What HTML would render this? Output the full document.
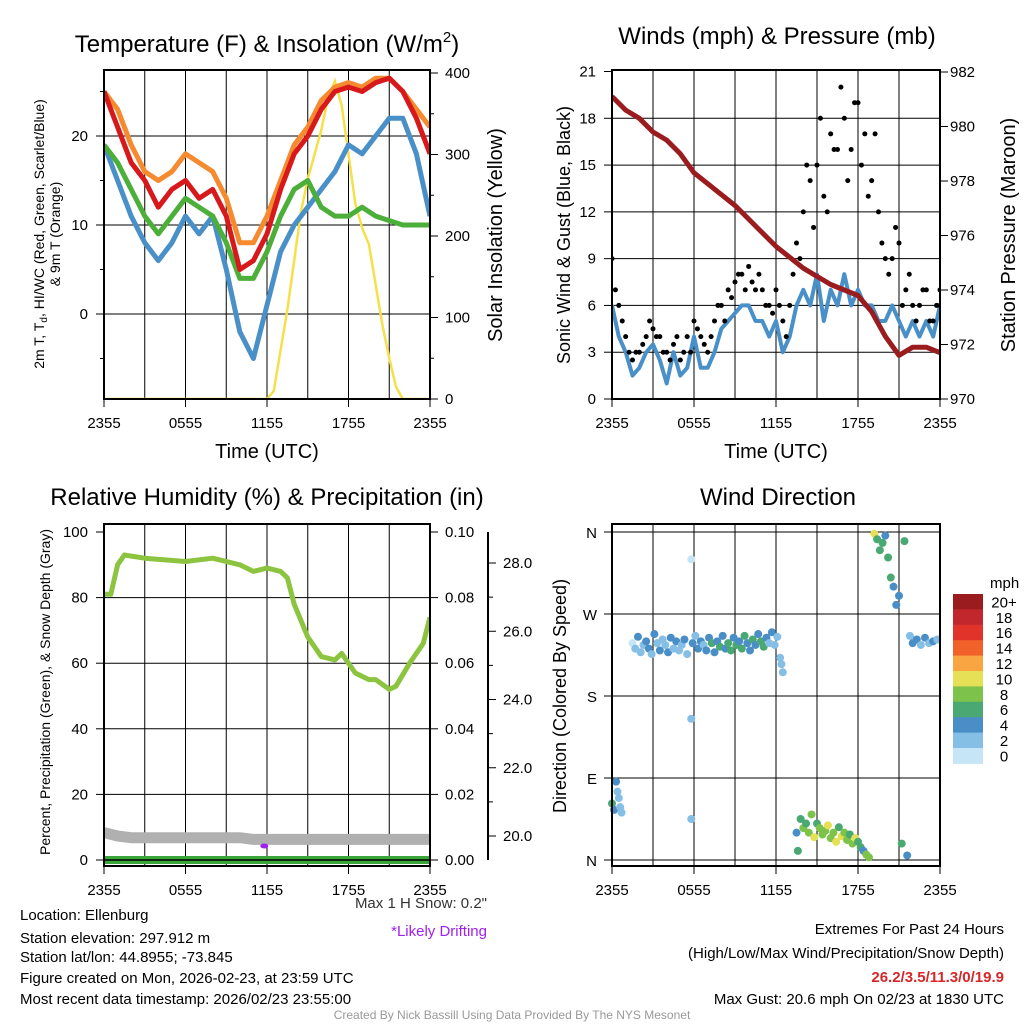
<!DOCTYPE html>
<html><head><meta charset="utf-8"><style>
body{margin:0;background:#fff}
svg{display:block;font-family:"Liberation Sans",Arial,sans-serif}
</style></head><body>
<svg id="s" width="1024" height="1024" viewBox="0 0 1024 1024">
<defs>
<clipPath id="c1"><rect x="104" y="70" width="326" height="329"/></clipPath>
<clipPath id="c2"><rect x="612" y="70" width="328" height="329"/></clipPath>
<clipPath id="c3"><rect x="104" y="524" width="326" height="342"/></clipPath>
<clipPath id="c4"><rect x="606" y="524" width="340" height="342"/></clipPath>
</defs>
<g id="g"></g>
<text x="267" y="52" font-size="24" text-anchor="middle">Temperature (F) &amp; Insolation (W/m<tspan dy="-10" font-size="15">2</tspan><tspan dy="10">)</tspan></text>
<text x="777" y="44" font-size="24" text-anchor="middle">Winds (mph) &amp; Pressure (mb)</text>
<text x="267" y="505" font-size="24" text-anchor="middle">Relative Humidity (%) &amp; Precipitation (in)</text>
<text x="778" y="505" font-size="24" text-anchor="middle">Wind Direction</text>
<text x="267" y="458" font-size="20" text-anchor="middle">Time (UTC)</text>
<text x="776" y="458" font-size="20" text-anchor="middle">Time (UTC)</text>
<text transform="translate(44,234) rotate(-90)" font-size="14" text-anchor="middle">2m T, T<tspan font-size="10" dy="3">d</tspan><tspan dy="-3">, HI/WC (Red, Green, Scarlet/Blue)</tspan></text>
<text transform="translate(60,234) rotate(-90)" font-size="14" text-anchor="middle">&amp; 9m T (Orange)</text>
<text transform="translate(502,235) rotate(-90)" font-size="20" text-anchor="middle">Solar Insolation (Yellow)</text>
<text transform="translate(570,235) rotate(-90)" font-size="18" text-anchor="middle">Sonic Wind &amp; Gust (Blue, Black)</text>
<text transform="translate(1015,235) rotate(-90)" font-size="20" text-anchor="middle">Station Pressure (Maroon)</text>
<text transform="translate(50,692) rotate(-90)" font-size="14" text-anchor="middle">Percent, Precipitation (Green), &amp; Snow Depth (Gray)</text>
<text transform="translate(566,696) rotate(-90)" font-size="18" text-anchor="middle">Direction (Colored By Speed)</text>
<text x="487" y="908" font-size="15" text-anchor="end" fill="#333">Max 1 H Snow: 0.2"</text>
<text x="487" y="936" font-size="15" text-anchor="end" fill="#a020f0">*Likely Drifting</text>
<g font-size="15">
<text x="20" y="920">Location: Ellenburg</text>
<text x="20" y="943">Station elevation: 297.912 m</text>
<text x="20" y="962">Station lat/lon: 44.8955; -73.845</text>
<text x="20" y="983">Figure created on Mon, 2026-02-23, at 23:59 UTC</text>
<text x="20" y="1004">Most recent data timestamp: 2026/02/23 23:55:00</text>
</g>
<g font-size="15" text-anchor="end">
<text x="1004" y="934">Extremes For Past 24 Hours</text>
<text x="1004" y="958">(High/Low/Max Wind/Precipitation/Snow Depth)</text>
<text x="1004" y="982" fill="#d62728" font-weight="bold">26.2/3.5/11.3/0/19.9</text>
<text x="1004" y="1004">Max Gust: 20.6 mph On 02/23 at 1830 UTC</text>
</g>
<text x="512" y="1019" font-size="12" fill="#999" text-anchor="middle">Created By Nick Bassill Using Data Provided By The NYS Mesonet</text>
</svg>
<script>
// ---- data ----
const hours = [0,1,2,3,4,5,6,7,8,9,10,11,12,13,14,15,16,17,18,19,20,21,22,23,24];
const tempRed = [25,21,17,15,12,14,15,13,14,11,5,6,9,14,18,20,23,25,25.5,25,26,26.5,25,22,18];
const tempOrange = [25,23,19,16,15,16,18,17,16,13,8,8,11,15,19,21,24,25.5,26,25.5,26.5,26.5,25,23,21];
const heatIndexGreen = [19,17,14,11,9,11,13,12,11,8,4,4,7,11,14,15,12,11,11,12,11,10.5,10,10,10];
const dewBlue = [19,15,11,8,6,8,11,9,11,5,-2,-5,1,7,10,12,14,16,19,18,20,22,22,18,11];
const halfHours = [0,0.5,1,1.5,2,2.5,3,3.5,4,4.5,5,5.5,6,6.5,7,7.5,8,8.5,9,9.5,10,10.5,11,11.5,12,12.5,13,13.5,14,14.5,15,15.5,16,16.5,17,17.5,18,18.5,19,19.5,20,20.5,21,21.5,22,22.5,23,23.5,24];
const solar = [0,0,0,0,0,0,0,0,0,0,0,0,0,0,0,0,0,0,0,0,0,0,0,0,0,10,60,110,170,230,270,300,330,370,390,360,300,240,210,190,140,90,50,15,0,0,0,0,0];
const sonicWind = [6,4,3,1.5,2,3,3.5,2.5,1,3,1.5,2,4,2,2,3,4.5,5,5.5,6,6,5,5,4,5,3,4,6,7,6,8,5,7,6,8,6,7,6,6,5,5,6,5,4,5,4,5,4,6];
const gustA = [9,6,4,2.5,3,4,4.5,4,3,3.5,2.5,4,5,4,3,5,6,7,7.5,8,8.5,7,7,6,7,5,6,10,12,14,15,13,17,16,18,16,19,17,14,12,9,9,10,7,6,6,7,5,7];
const gustB = [7,5,3,3,3.5,5,4,3,2.5,4,3,3,4.5,3.5,4,6,5,6.5,8,7,7.5,8,6,5.5,6,4,8,9,15,11,18,12,16,20,14,19,15,13,17,10,8,11,6,8,5,7,5,6,6];
const pressure = [981.1,980.6,980.3,979.8,979.5,979,978.3,977.9,977.5,977.1,976.6,976.1,975.6,975.2,974.8,974.5,974.2,974,973.8,973.2,972.3,971.6,971.9,971.9,971.7];
const rhTimes = [0,0.5,1,1.5,3,6,8,10,11,12,13,13.5,14,15,16,17,17.5,18.5,19.5,20,21,21.5,22.5,23.5,24];
const rh = [81,81,90,93,92,91,92,90,88,89,88,86,78,68,62,61,63,57,55,55,52,53,60,66,74];
const snowDepth = [20.1,20.0,19.95,19.95,19.95,19.95,19.95,19.95,19.95,19.95,19.95,19.9,19.9,19.9,19.9,19.9,19.9,19.9,19.9,19.9,19.9,19.9,19.9,19.9,19.9];
const precip = [0,0,0,0,0,0,0,0,0,0,0,0,0,0,0,0,0,0,0,0,0,0,0,0,0];
const dirTimes = [0,0.15,0.3,0.4,0.5,0.6,0.7,1.5,1.7,1.9,2.1,2.3,2.5,2.7,2.9,3.1,3.3,3.5,3.7,3.9,4.1,4.3,4.5,4.7,4.9,5.1,5.3,5.5,5.8,5.8,5.8,5.9,6.1,6.3,6.5,6.7,6.9,7.1,7.3,7.5,7.7,7.9,8.1,8.3,8.5,8.7,8.9,9.1,9.3,9.5,9.7,9.9,10.1,10.3,10.5,10.7,10.9,11.1,11.3,11.5,11.7,11.9,12.1,12.3,12.4,12.5,13.5,13.6,13.8,14,14.2,14.4,14.6,14.8,15,15.2,15.4,15.6,15.8,16,16.2,16.4,16.6,16.8,17,17.2,17.4,17.6,17.8,18,18.2,18.4,18.6,18.8,19.2,19.4,19.6,19.8,20,20.2,20.4,20.6,20.8,21,21.2,21.4,21.6,21.8,22,22.3,22.6,22.9,23.2,23.5,23.8,24];
const dirDeg = [62,55,86,75,68,58,52,238,232,245,228,236,240,232,226,248,238,230,242,236,228,244,232,240,230,236,242,226,330,155,45,238,246,232,240,236,230,244,238,228,240,234,246,232,238,230,244,236,240,232,246,238,230,242,236,248,240,234,244,238,250,236,245,222,215,206,30,10,45,35,40,30,50,25,40,35,28,32,38,24,30,20,36,26,30,22,28,18,24,20,14,10,6,3,358,352,340,348,356,332,310,300,280,290,18,350,5,246,238,242,236,244,238,240,242];
const dirSpeed = [6,5,4,3,3,3,2,1,3,4,3,2,4,5,3,4,3,4,2,3,4,5,3,4,2,3,4,3,1,2,2,4,3,4,5,3,4,4,6,5,4,6,5,4,6,7,5,6,5,7,6,4,5,6,4,5,6,7,4,3,4,3,3,2,2,2,4,6,7,8,6,9,8,10,7,9,8,9,10,8,9,11,7,10,9,8,6,9,10,7,6,5,8,9,10,6,7,6,5,7,6,5,4,4,7,6,4,3,4,5,3,4,3,4,3,4];
const speedBins = [0,2,4,6,8,10,12,14,16,18,20];
const speedColors = ['#c6e6f7','#86bfe6','#4a8ec8','#4aa873','#7dc24a','#e6e057','#f8a542','#f1622a','#e0342a','#c1272d','#9b1c1f'];
const colorLabels = ['0','2','4','6','8','10','12','14','16','18','20+'];
const tickLabels = ['2355','0555','1155','1755','2355'];

// ---- helpers ----
const NS='http://www.w3.org/2000/svg';
const G=document.getElementById('g');
function mk(tag,attrs,parent){const e=document.createElementNS(NS,tag);for(const k in attrs)e.setAttribute(k,attrs[k]);(parent||G).appendChild(e);return e;}
function lin(d0,d1,r0,r1){return v=>r0+(v-d0)*(r1-r0)/(d1-d0);}
function pathFrom(xs,ys,fx,fy){return xs.map((t,i)=>(i?'L':'M')+fx(t).toFixed(1)+','+fy(ys[i]).toFixed(1)).join('');}
function txt(x,y,s,size,anchor,parent){const e=mk('text',{x:x,y:y,'font-size':size,'text-anchor':anchor||'middle'},parent);e.textContent=s;return e;}

function frame(x0,y0,x1,y1,name){
  const g=mk('g',{});
  
  
  for(let h=3;h<24;h+=3){const x=x0+(x1-x0)*h/24;mk('line',{x1:x,y1:y0,x2:x,y2:y1,stroke:'#000','stroke-width':1},g);}
  for(let i=0;i<5;i++){const x=x0+(x1-x0)*i/4;mk('line',{x1:x,y1:y1,x2:x,y2:y1+8,stroke:'#000'},g);txt(x,y1+29,tickLabels[i],15,'middle',g);}
  return g;
}

// ===== Panel 1: temperature =====
(function(){
  const x=lin(0,24,104,430), y=lin(0,10,314,225), ys=lin(0,100,399,317.5);
  const g=frame(104,70,430,399,'temperature-panel');
  [0,10,20].forEach(v=>{mk('line',{x1:104,y1:y(v),x2:430,y2:y(v),stroke:'#000'},g);mk('line',{x1:96,y1:y(v),x2:104,y2:y(v),stroke:'#000'},g);txt(88,y(v)+5,String(v),15,'end',g);});
  [-5,5,15,25].forEach(v=>mk('line',{x1:100,y1:y(v),x2:104,y2:y(v),stroke:'#000'},g));
  [0,100,200,300,400].forEach(v=>{mk('line',{x1:430,y1:ys(v),x2:438,y2:ys(v),stroke:'#000'},g);txt(445,ys(v)+5,String(v),15,'start',g);});
  [50,150,250,350].forEach(v=>mk('line',{x1:430,y1:ys(v),x2:434,y2:ys(v),stroke:'#000'},g));
  const c=mk('g',{'clip-path':'url(#c1)'},g);
  const sl=mk('path',{d:pathFrom(halfHours,solar,x,ys),fill:'none',stroke:'#f5e04a','stroke-width':2.5},c);
  
  const series=[[dewBlue,'#4a90c8','dewpoint-line'],[heatIndexGreen,'#4caf3a','heat-index-line'],[tempOrange,'#f58a2e','temp-9m-line'],[tempRed,'#d7191c','temp-2m-line']];
  series.forEach(s=>{const p=mk('path',{d:pathFrom(hours,s[0],x,y),fill:'none',stroke:s[1],'stroke-width':5,'stroke-linejoin':'round'},c);
    });
  mk('rect',{x:104,y:70,width:326,height:329,fill:'none',stroke:'#000','stroke-width':2},g);
})();

// ===== Panel 2: winds =====
(function(){
  const x=lin(0,24,612,940), y=lin(0,21,399,71.5), yp=lin(970,982,399,72);
  const g=frame(612,70,940,399,'winds-panel');
  [3,6,9,12,15,18].forEach(v=>mk('line',{x1:612,y1:y(v),x2:940,y2:y(v),stroke:'#000'},g));
  [0,3,6,9,12,15,18,21].forEach(v=>{mk('line',{x1:604,y1:y(v),x2:612,y2:y(v),stroke:'#000'},g);txt(596,y(v)+5,String(v),15,'end',g);});
  [970,972,974,976,978,980,982].forEach(v=>{mk('line',{x1:940,y1:yp(v),x2:948,y2:yp(v),stroke:'#000'},g);txt(950,yp(v)+5,String(v),15,'start',g);});
  const c=mk('g',{'clip-path':'url(#c2)'},g);
  const w=mk('path',{d:pathFrom(halfHours,sonicWind,x,y),fill:'none',stroke:'#4a90c8','stroke-width':4,'stroke-linejoin':'round'},c);
  
  const p=mk('path',{d:pathFrom(hours,pressure,x,yp),fill:'none',stroke:'#9b1c1f','stroke-width':5,'stroke-linejoin':'round'},c);
  
  halfHours.forEach((t,i)=>{
    const a=mk('circle',{cx:x(t),cy:y(gustA[i]),r:2.5,fill:'#000'},c);
    
    const b=mk('circle',{cx:x(Math.min(24,t+0.25)),cy:y(gustB[i]),r:2.5,fill:'#000'},c);
    
  });
  mk('rect',{x:612,y:70,width:328,height:329,fill:'none',stroke:'#000','stroke-width':2},g);
})();

// ===== Panel 3: RH =====
(function(){
  const x=lin(0,24,104,430), y=lin(0,100,860,532), yp=lin(0,0.1,860,532), yd=lin(20,28,836,563);
  const g=frame(104,524,430,866,'humidity-panel');
  [20,40,60,80].forEach(v=>mk('line',{x1:104,y1:y(v),x2:430,y2:y(v),stroke:'#000'},g));
  [0,20,40,60,80,100].forEach(v=>{mk('line',{x1:96,y1:y(v),x2:104,y2:y(v),stroke:'#000'},g);txt(88,y(v)+5,String(v),15,'end',g);});
  [0,0.02,0.04,0.06,0.08,0.1].forEach(v=>{mk('line',{x1:430,y1:yp(v),x2:438,y2:yp(v),stroke:'#000'},g);txt(445,yp(v)+5,v.toFixed(2),15,'start',g);});
  mk('line',{x1:488,y1:532,x2:488,y2:860,stroke:'#000','stroke-width':2},g);
  [20,22,24,26,28].forEach(v=>{mk('line',{x1:488,y1:yd(v),x2:496,y2:yd(v),stroke:'#000'},g);txt(503,yd(v)+5,v.toFixed(1),15,'start',g);});
  [21,23,25,27].forEach(v=>mk('line',{x1:488,y1:yd(v),x2:493,y2:yd(v),stroke:'#000'},g));
  const c=mk('g',{'clip-path':'url(#c3)'},g);
  const sd=mk('path',{d:pathFrom(hours,snowDepth,x,yd),fill:'none',stroke:'#b0b0b0','stroke-width':11,'stroke-linejoin':'round'},c);
  
  const pr=mk('path',{d:pathFrom(hours,precip,x,yp),fill:'none',stroke:'#3aa63a','stroke-width':8},c);
  
  mk('path',{d:pathFrom(hours,precip,x,yp),fill:'none',stroke:'#000','stroke-width':1.5},c);
  const r=mk('path',{d:pathFrom(rhTimes,rh,x,y),fill:'none',stroke:'#8cc43f','stroke-width':5,'stroke-linejoin':'round'},c);
  
  const m=mk('ellipse',{cx:x(11.8),cy:846,rx:4,ry:2.5,fill:'#a020f0'},c);
  
  mk('rect',{x:104,y:524,width:326,height:342,fill:'none',stroke:'#000','stroke-width':2},g);
})();

// ===== Panel 4: wind direction =====
(function(){
  const x=lin(0,24,612,940), y=lin(0,360,860,532);
  const g=frame(612,524,940,866,'direction-panel');
  const labs=['N','E','S','W','N'];
  [0,90,180,270,360].forEach((v,i)=>{mk('line',{x1:612,y1:y(v),x2:940,y2:y(v),stroke:'#000'},g);mk('line',{x1:604,y1:y(v),x2:612,y2:y(v),stroke:'#000'},g);txt(597,y(v)+6,labs[i],15,'end',g);});
  const c=mk('g',{'clip-path':'url(#c4)'},g);
  dirTimes.forEach((t,i)=>{
    let k=0;for(let j=0;j<speedBins.length;j++) if(dirSpeed[i]>=speedBins[j]) k=j;
    const p=mk('circle',{cx:x(t),cy:y(dirDeg[i]),r:4,fill:speedColors[k]},c);
    
  });
  mk('rect',{x:612,y:524,width:328,height:342,fill:'none',stroke:'#000','stroke-width':2},g);
  const cb=mk('g',{});
  
  txt(990,588,'mph',15,'start',cb);
  const h=15.4;
  for(let i=0;i<11;i++){const idx=10-i;const yy=594+i*h;
    mk('rect',{x:953,y:yy,width:30,height:h+0.5,fill:speedColors[idx]},cb);
    txt(1004,yy+h-2,colorLabels[idx],15,'middle',cb);}
})();
</script>
</body></html>
